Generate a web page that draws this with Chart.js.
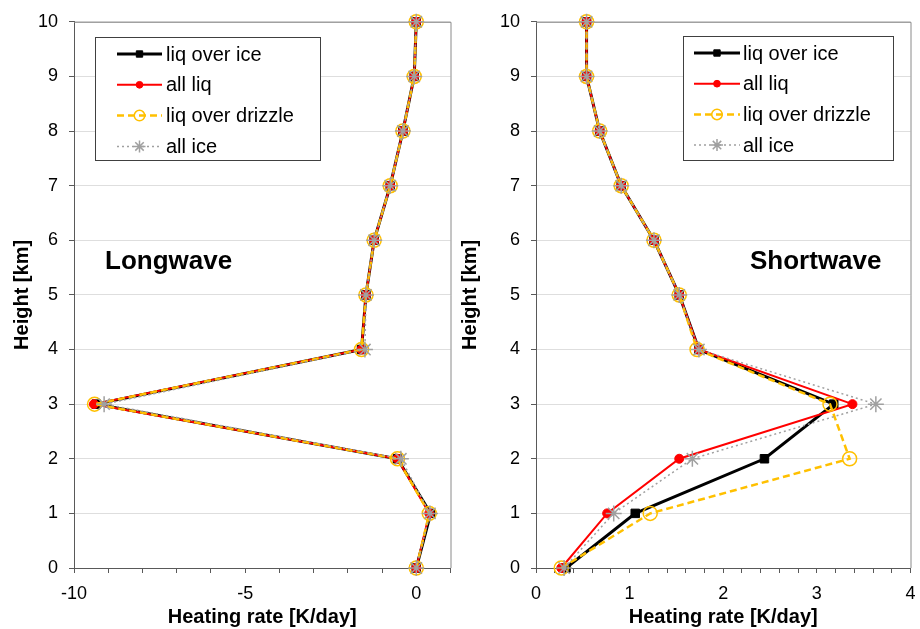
<!DOCTYPE html>
<html>
<head>
<meta charset="utf-8">
<script src="https://cdn.jsdelivr.net/npm/chart.js@4.4.0/dist/chart.umd.min.js"></script>
<style>
    html, body { margin: 0; padding: 0; background: #fff; }
    .wrap { position: relative; width: 920px; height: 629px; }
    .panel { position: absolute; top: 0; width: 460px; height: 629px; }
</style>
</head>
<body>
<div class="wrap">
    <div class="panel" style="left:0"><canvas id="lwChart" width="460" height="629"></canvas></div>
    <div class="panel" style="left:460px"><canvas id="swChart" width="460" height="629"></canvas></div>
</div>
<script>
// heights [km] shared by every profile
const heights = [0, 1, 2, 3, 4, 5, 6, 7, 8, 9, 10];
const seriesNames = ['liq over ice', 'all liq', 'liq over drizzle', 'all ice'];

// Longwave heating rate [K/day], one value per height
const lwLiqOverIce     = [0.0, 0.42, -0.55, -9.35, -1.6, -1.47, -1.23, -0.76, -0.39, -0.06, 0.0];
const lwAllLiq         = [0.0, 0.38, -0.55, -9.42, -1.6, -1.47, -1.23, -0.76, -0.39, -0.06, 0.0];
const lwLiqOverDrizzle = [0.0, 0.38, -0.55, -9.40, -1.6, -1.47, -1.23, -0.76, -0.39, -0.06, 0.0];
const lwAllIce         = [0.0, 0.40, -0.45, -9.12, -1.5, -1.47, -1.23, -0.76, -0.39, -0.06, 0.0];

// Shortwave heating rate [K/day]
const swLiqOverIce     = [0.32, 1.06, 2.44, 3.18, 1.74, 1.53, 1.26, 0.91, 0.68, 0.54, 0.54];
const swAllLiq         = [0.27, 0.76, 1.53, 3.38, 1.74, 1.53, 1.26, 0.91, 0.68, 0.54, 0.54];
const swLiqOverDrizzle = [0.27, 1.22, 3.35, 3.14, 1.72, 1.53, 1.26, 0.91, 0.68, 0.54, 0.54];
const swAllIce         = [0.30, 0.83, 1.67, 3.63, 1.74, 1.53, 1.26, 0.91, 0.68, 0.54, 0.54];

const lwTicks = { min: -10, max: 1, step: 1, labelEvery: 5 };
const swTicks = { min: 0, max: 4, step: 0.2, labelEvery: 1 };

Chart.defaults.font.family = '"Liberation Sans", Arial, sans-serif';
Chart.defaults.color = '#000';

const seriesStyles = [
    { borderColor: '#000000', backgroundColor: '#000000', borderWidth: 3, pointStyle: 'rect', pointRadius: 6, pointBorderWidth: 1, order: 4 },
    { borderColor: '#ff0000', backgroundColor: '#ff0000', borderWidth: 2, pointStyle: 'circle', pointRadius: 4.5, pointBorderWidth: 1, order: 3 },
    { borderColor: '#ffc000', backgroundColor: 'rgba(255,255,255,0)', borderWidth: 2.5, borderDash: [7, 4], pointStyle: 'circle', pointRadius: 7, pointBorderWidth: 1.5, order: 2 },
    { borderColor: '#a0a0a0', backgroundColor: '#a0a0a0', borderWidth: 1.5, borderDash: [2, 3], pointStyle: 'star', pointRadius: 8, pointBorderWidth: 1.5, order: 1 }
];

function buildDatasets(profiles) {
    return profiles.map((xs, i) => ({
        label: seriesNames[i],
        data: heights.map((h, j) => ({ x: xs[j], y: h })),
        showLine: true,
        clip: false,
        ...seriesStyles[i]
    }));
}

// plot frame (top and right edges)
const plotFrame = {
    id: 'plotFrame',
    beforeDatasetsDraw(chart) {
        const { ctx, chartArea: a } = chart;
        ctx.save();
        ctx.strokeStyle = '#8a8a8a';
        ctx.lineWidth = 1;
        ctx.beginPath();
        ctx.moveTo(a.left, a.top + 0.5);
        ctx.lineTo(a.right + 0.5, a.top + 0.5);
        ctx.lineTo(a.right + 0.5, a.bottom);
        ctx.stroke();
        ctx.restore();
    }
};

// boxed legend with line + marker samples
const boxLegend = {
    id: 'boxLegend',
    afterDraw(chart, args, o) {
        const ctx = chart.ctx;
        ctx.save();
        ctx.fillStyle = '#fff';
        ctx.fillRect(o.x, o.y, o.w, o.h);
        ctx.strokeStyle = '#404040';
        ctx.lineWidth = 1;
        ctx.strokeRect(o.x + 0.5, o.y + 0.5, o.w, o.h);
        chart.data.datasets.forEach((ds, i) => {
            const cy = o.y + o.rowTop + i * o.rowGap;
            const x0 = o.x + o.lineX0, x1 = o.x + o.lineX1;
            ctx.setLineDash(ds.borderDash || []);
            ctx.strokeStyle = ds.borderColor;
            ctx.lineWidth = ds.borderWidth;
            ctx.beginPath();
            ctx.moveTo(x0, cy);
            ctx.lineTo(x1, cy);
            ctx.stroke();
            ctx.setLineDash([]);
            ctx.fillStyle = ds.backgroundColor;
            ctx.strokeStyle = ds.borderColor;
            ctx.lineWidth = ds.pointBorderWidth;
            Chart.helpers.drawPoint(ctx, {
                pointStyle: ds.pointStyle,
                radius: ds.pointRadius * 0.75,
                rotation: 0,
                borderWidth: ds.pointBorderWidth
            }, (x0 + x1) / 2, cy);
            ctx.fillStyle = '#000';
            ctx.font = '20px "Liberation Sans", Arial, sans-serif';
            ctx.textBaseline = 'middle';
            ctx.textAlign = 'left';
            ctx.fillText(ds.label, o.x + o.textX, cy + 1);
        });
        ctx.restore();
    }
};

const panelLabel = {
    id: 'panelLabel',
    afterDatasetsDraw(chart, args, o) {
        const ctx = chart.ctx;
        ctx.save();
        ctx.fillStyle = '#000';
        ctx.font = 'bold 26px "Liberation Sans", Arial, sans-serif';
        ctx.textBaseline = 'middle';
        ctx.textAlign = 'left';
        ctx.fillText(o.text, o.x, o.y);
        ctx.restore();
    }
};

function makeChart(canvasId, profiles, xt, yAxisWidth, yTitlePad, legendOpts, labelOpts) {
    const ctx = document.getElementById(canvasId).getContext('2d');
    return new Chart(ctx, {
        type: 'scatter',
        data: { datasets: buildDatasets(profiles) },
        options: {
            responsive: false,
            animation: false,
            devicePixelRatio: 1,
            layout: { padding: { top: 18, right: 9, bottom: 0, left: 0 } },
            plugins: {
                legend: { display: false },
                tooltip: { enabled: false },
                boxLegend: legendOpts,
                panelLabel: labelOpts
            },
            scales: {
                x: {
                    type: 'linear',
                    min: xt.min,
                    max: xt.max,
                    afterFit(scale) {
                        scale.height = 61;
                        scale.paddingLeft = 0;
                        scale.paddingRight = 0;
                    },
                    grid: { drawOnChartArea: false, tickLength: 5, tickColor: '#595959' },
                    border: { color: '#595959', width: 1 },
                    ticks: {
                        stepSize: xt.step,
                        autoSkip: false,
                        maxRotation: 0,
                        padding: 10,
                        font: { size: 18 },
                        color: '#000',
                        callback: v => {
                            const r = Math.round(v / xt.labelEvery) * xt.labelEvery;
                            return Math.abs(v - r) < 1e-6 ? String(r) : '';
                        }
                    },
                    title: {
                        display: true,
                        text: 'Heating rate [K/day]',
                        font: { size: 20, weight: 'bold', lineHeight: 1 },
                        padding: { top: 0, bottom: 2 }
                    }
                },
                y: {
                    type: 'linear',
                    min: 0,
                    max: 10,
                    afterFit(scale) { scale.width = yAxisWidth; },
                    grid: { color: '#dedede', lineWidth: 1, tickLength: 5, tickColor: '#595959' },
                    border: { color: '#595959', width: 1 },
                    ticks: { stepSize: 1, padding: 11, font: { size: 18 }, color: '#000' },
                    title: {
                        display: true,
                        text: 'Height [km]',
                        font: { size: 20, weight: 'bold', lineHeight: 1 },
                        padding: { top: yTitlePad, bottom: 0 }
                    }
                }
            }
        },
        plugins: [plotFrame, panelLabel, boxLegend]
    });
}

makeChart('lwChart',
    [lwLiqOverIce, lwAllLiq, lwLiqOverDrizzle, lwAllIce],
    lwTicks, 74, 12,
    { x: 95, y: 37, w: 225, h: 123, lineX0: 22, lineX1: 67, textX: 71, rowTop: 17, rowGap: 30.8 },
    { text: 'Longwave', x: 105, y: 262 });

makeChart('swChart',
    [swLiqOverIce, swAllLiq, swLiqOverDrizzle, swAllIce],
    swTicks, 76, 0,
    { x: 223, y: 36, w: 210, h: 124, lineX0: 11, lineX1: 57, textX: 60, rowTop: 17, rowGap: 30.7 },
    { text: 'Shortwave', x: 290, y: 262 });
</script>
</body>
</html>
